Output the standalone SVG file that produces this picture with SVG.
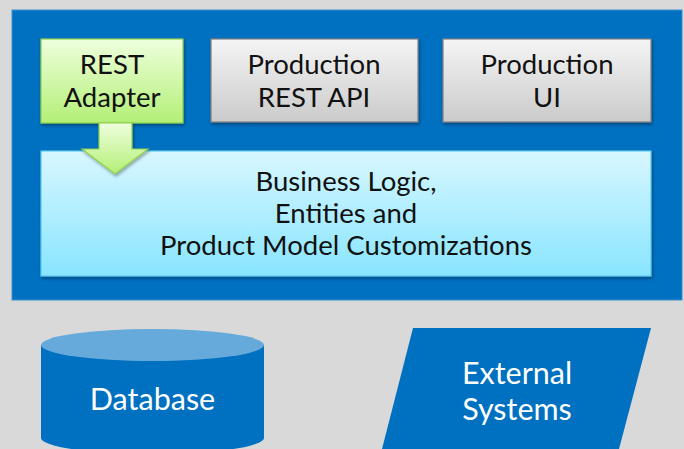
<svg xmlns="http://www.w3.org/2000/svg" width="684" height="449" viewBox="0 0 684 449">
  <defs>
    <linearGradient id="gGreen" x1="0" y1="0" x2="0" y2="1">
      <stop offset="0" stop-color="#eeffdd"/>
      <stop offset="1" stop-color="#b3ef76"/>
    </linearGradient>
    <linearGradient id="gGray" x1="0" y1="0" x2="0" y2="1">
      <stop offset="0" stop-color="#f4f4f4"/>
      <stop offset="1" stop-color="#cbcbcb"/>
    </linearGradient>
    <linearGradient id="gCyan" x1="0" y1="0" x2="0" y2="1">
      <stop offset="0" stop-color="#d8f7ff"/>
      <stop offset="1" stop-color="#88e5ff"/>
    </linearGradient>
    <filter id="shadow" x="-10%" y="-10%" width="120%" height="130%">
      <feDropShadow dx="1" dy="2" stdDeviation="1.5" flood-color="#000" flood-opacity="0.35"/>
    </filter>
  </defs>
  <style>
    .lbl { font-family: Lato, "Liberation Sans", sans-serif; font-size: 27.5px; text-anchor: middle; fill: #111; }
    .wht { fill: #ffffff; font-size: 30.5px; }
    .blue { fill: #0070c0; }
  </style>

  <rect x="0" y="0" width="684" height="449" fill="#d9d9d9"/>

  <g id="container">
    <rect x="12" y="10" width="670" height="290" class="blue" stroke="#3d8fd0" stroke-width="1"/>
  </g>

  <g id="business-logic">
    <rect x="41" y="151" width="610" height="125" fill="url(#gCyan)" stroke="#5cc8ee" stroke-width="1.2" filter="url(#shadow)"/>
    <text class="lbl" x="346" y="191">Business Logic,</text>
    <text class="lbl" x="346" y="223">Entities and</text>
    <text class="lbl" x="346" y="255">Product Model Customizations</text>
  </g>

  <g id="rest-adapter">
    <rect x="41" y="39" width="142" height="84" fill="url(#gGreen)" stroke="#8fd14f" stroke-width="1.2" filter="url(#shadow)"/>
    <text class="lbl" x="112" y="74">REST</text>
    <text class="lbl" x="112" y="107">Adapter</text>
  </g>

  <g id="production-rest-api">
    <rect x="211" y="39" width="207" height="83" fill="url(#gGray)" stroke="#808080" stroke-width="1.2" filter="url(#shadow)"/>
    <text class="lbl" x="314" y="74">Production</text>
    <text class="lbl" x="314" y="107">REST API</text>
  </g>

  <g id="production-ui">
    <rect x="443" y="39" width="208" height="83" fill="url(#gGray)" stroke="#808080" stroke-width="1.2" filter="url(#shadow)"/>
    <text class="lbl" x="547" y="74">Production</text>
    <text class="lbl" x="547" y="107">UI</text>
  </g>

  <g id="connectors">
    <path d="M99,123 L132,123 L132,149 L148,149 L115,174 L82,149 L99,149 Z" fill="url(#gGreen)" stroke="#8fd14f" stroke-width="1.2" filter="url(#shadow)"/>
  </g>

  <g id="database">
    <path d="M41,345 L41,438 A111.5,16 0 0 0 264,438 L264,345 Z" class="blue"/>
    <ellipse cx="152.5" cy="345" rx="111.5" ry="16" fill="#66aadb"/>
    <text class="lbl wht" x="152.5" y="410">Database</text>
  </g>

  <g id="external-systems">
    <path d="M413,328 L651,328 L619,449 L382,449 Z" class="blue"/>
    <text class="lbl wht" x="517" y="384">External</text>
    <text class="lbl wht" x="517" y="420">Systems</text>
  </g>
</svg>
